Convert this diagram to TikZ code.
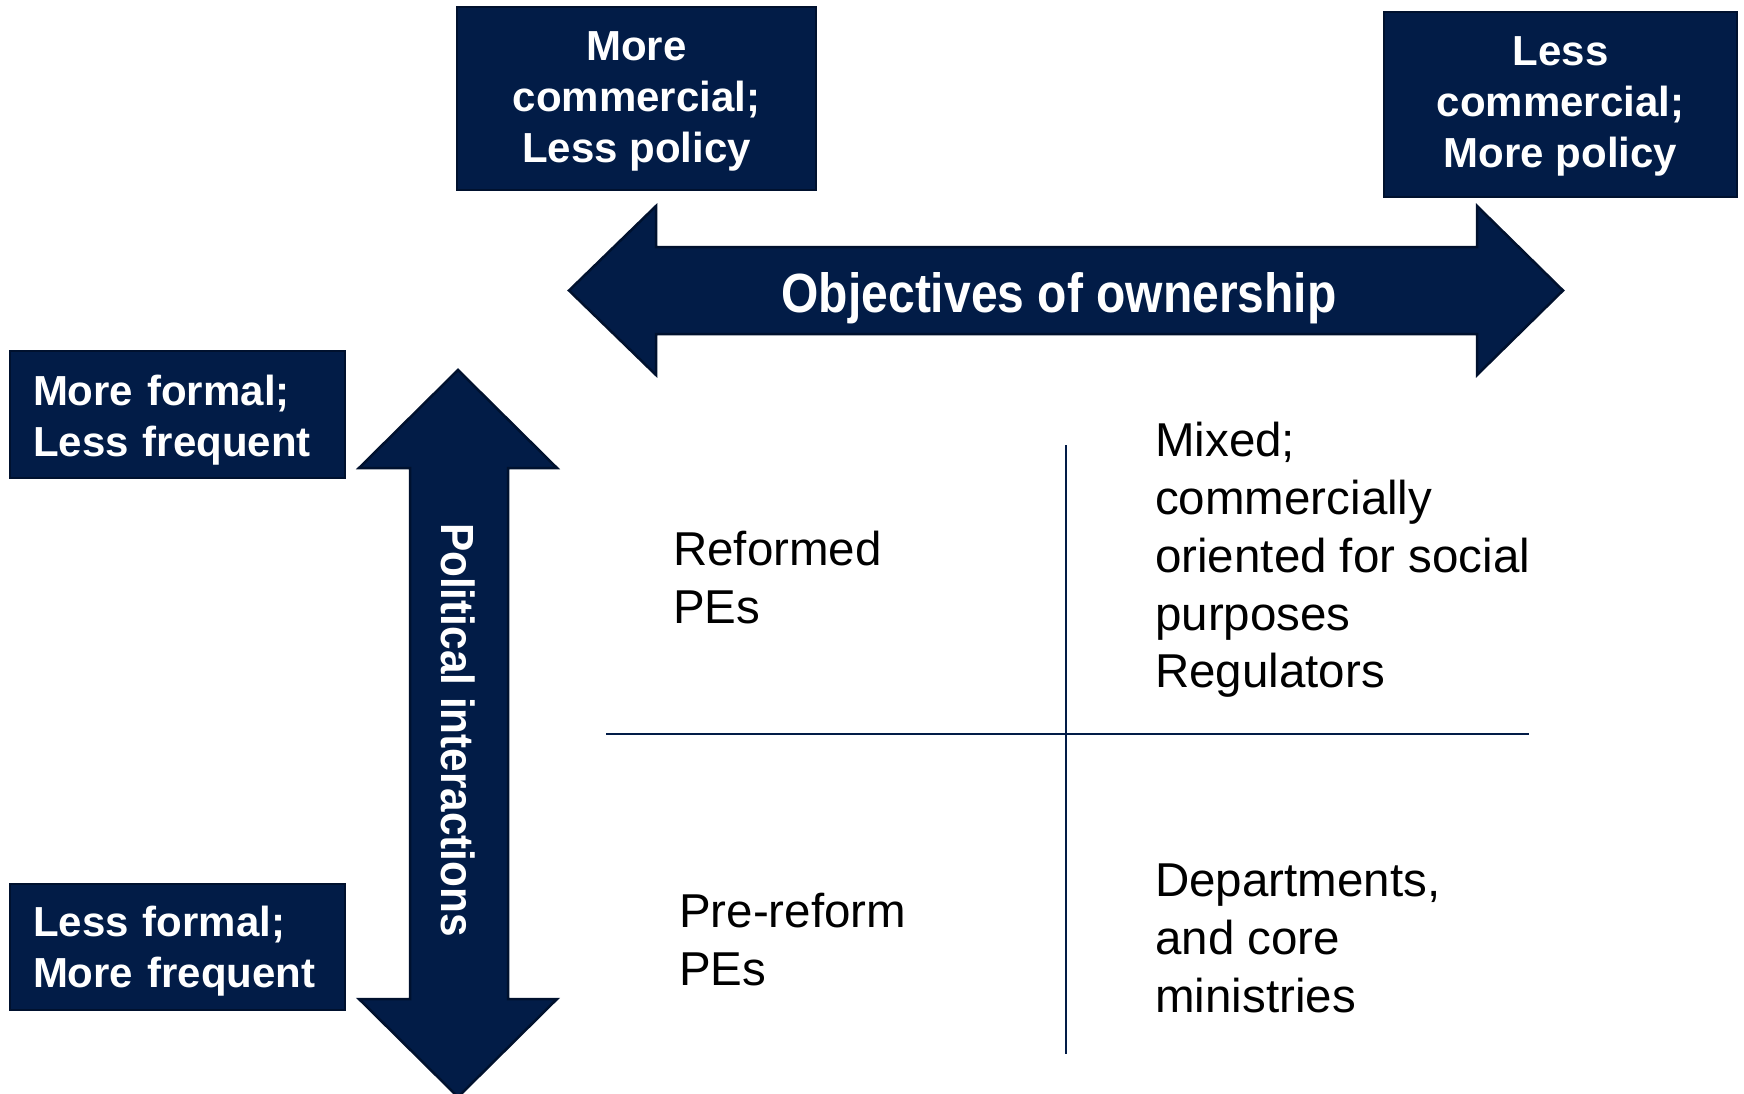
\documentclass[tikz,border=0pt]{standalone}
\usepackage{fontspec}
\setmainfont{Liberation Sans}
\definecolor{navy}{HTML}{021C47}
\definecolor{navyedge}{HTML}{00112E}
\begin{document}
\begin{tikzpicture}[x=1pt,y=-1pt,
  tagbox/.style={fill=navy, draw=navyedge, line width=2.5pt, inner sep=0pt},
  tagtext/.style={text=white, font=\fontsize{42}{51}\selectfont\bfseries, inner sep=0pt},
  band/.style={fill=navy, draw=navyedge, line width=2.5pt, line join=miter},
  quad/.style={anchor=north west, inner sep=0pt, align=left,
    font=\fontsize{47.5}{57.8}\selectfont},
  grid/.style={draw=navy, line width=1.8pt}]
\useasboundingbox (0,0) rectangle (1744,1094);

% quadrant dividers
\coordinate (hl) at (606,734);
\coordinate (hr) at (1529,734);
\coordinate (vt) at (1066,445);
\coordinate (vb) at (1066,1054);
\draw[grid] (hl) -- (hr);
\draw[grid] (vt) -- (vb);

% horizontal double arrow: objectives of ownership
\draw[band] (569,290.5) -- (656,206) -- (656,247) -- (1477,247) -- (1477,206)
  -- (1563,290.5) -- (1477,375) -- (1477,334) -- (656,334) -- (656,375) -- cycle;
\node[text=white, font=\fontsize{48}{48}\selectfont\bfseries, anchor=base, inner sep=0pt]
  (obj) at (1059,312) {\scalebox{1}[1.15]{Objectives of ownership}};

% vertical double arrow: political interactions
\draw[band] (458,370) -- (557,468) -- (508,468) -- (508,999) -- (557,999)
  -- (458,1097) -- (359,999) -- (410,999) -- (410,468) -- (359,468) -- cycle;
\node[text=white, rotate=-90, font=\fontsize{42.3}{42}\selectfont\bfseries, inner sep=0pt]
  (pol) at (458,730) {\scalebox{1}[1.1]{Political interactions}};

% end labels of the axes
\node[tagbox, minimum width=359pt, minimum height=183pt] (comm) at (636.5,98.5) {};
\node[tagtext, align=center] (commtxt) at ([yshift=-2.5pt]comm.center)
  {More\\commercial;\\Less policy};
\node[tagbox, minimum width=353pt, minimum height=185pt] (policy) at (1560.5,104.5) {};
\node[tagtext, align=center] (policytxt) at ([yshift=-2pt]policy.center)
  {Less\\commercial;\\More policy};
\node[tagbox, minimum width=335pt, minimum height=127pt] (formal) at (177.5,414.5) {};
\node[tagtext, text width=289pt, align=left] (formaltxt) at ([yshift=-5.5pt]formal.center)
  {More formal;\\Less frequent};
\node[tagbox, minimum width=335pt, minimum height=126pt] (informal) at (177.5,947) {};
\node[tagtext, text width=289pt, align=left] (informaltxt) at ([yshift=-4pt]informal.center)
  {Less formal;\\More frequent};

% quadrant contents
\node[quad] (ref) at (673,531) {Reformed\\PEs};
\node[quad] (mix) at (1155,422) {Mixed;\\commercially\\oriented for social\\purposes\\Regulators};
\node[quad] (pre) at (679,893) {Pre-reform\\PEs};
\node[quad] (dep) at (1155,864) {Departments,\\and core\\ministries};
\end{tikzpicture}
\end{document}
